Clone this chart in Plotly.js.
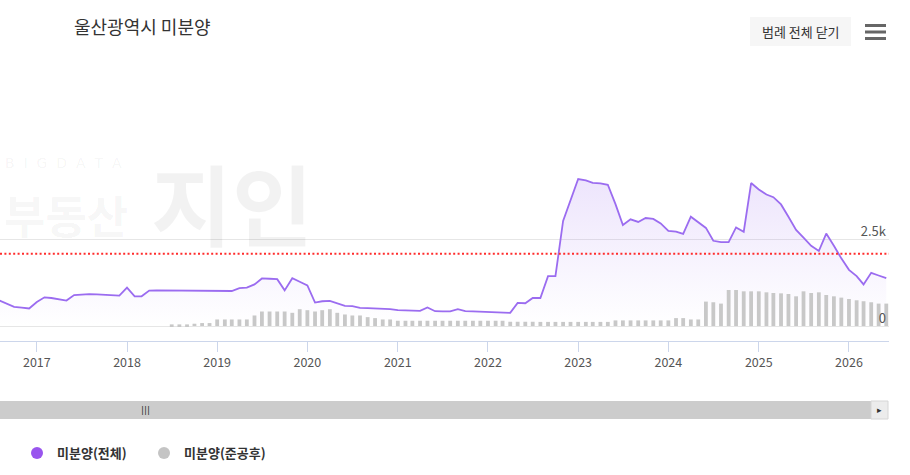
<!DOCTYPE html>
<html>
<head>
<meta charset="utf-8">
<script src="https://cdn.plot.ly/plotly-3.0.1.min.js"></script>
<style>
  html, body { margin: 0; padding: 0; background: #ffffff; }
  #chart { width: 910px; height: 475px; }
</style>
</head>
<body>
<div id="chart"></div>
<script>
// ---------- data (monthly, Aug 2016 .. Jun 2026) ----------
const firstMonth = [2016, 8];
const totalUnsold = [
  // 2016 Aug-Dec
  746, 660, 554, 531, 508,
  // 2017
  697, 832, 812, 775, 738, 898, 913, 927, 918, 904, 890, 881,
  // 2018
  1111, 861, 861, 1025, 1033, 1030, 1030, 1028, 1026, 1024, 1022, 1020,
  // 2019
  1022, 1020, 1015, 1099, 1111, 1205, 1378, 1369, 1358, 1033, 1386, 1283,
  // 2020
  1177, 680, 718, 726, 651, 583, 574, 525, 517, 508, 500, 488,
  // 2021
  459, 453, 448, 439, 537, 430, 425, 422, 488, 430, 425, 419,
  // 2022
  416, 410, 402, 382, 669, 660, 812, 812, 1444, 1444, 3042, 3616,
  // 2023
  4256, 4219, 4147, 4133, 4090, 3530, 2927, 3091, 3014, 3128, 3100, 2970,
  // 2024
  2755, 2735, 2669, 3166, 2999, 2841, 2468, 2431, 2431, 2856, 2727, 4141,
  // 2025
  3952, 3808, 3731, 3521, 3166, 2784, 2563, 2325, 2173, 2678, 2325, 1960,
  // 2026 Jan-Jun
  1627, 1444, 1205, 1541, 1464, 1386
];
const completedUnsold = [
  // 2016 Aug-Dec
  null, null, null, null, null,
  // 2017
  null, null, null, null, null, null, null, null, null, null, null, null,
  // 2018
  null, null, null, null, null, null, 48, 48, 48, 67, 86, 86,
  // 2019
  191, 191, 191, 191, 191, 306, 421, 421, 421, 421, 383, 488,
  // 2020
  459, 421, 459, 488, 383, 335, 306, 306, 258, 230, 191, 191,
  // 2021
  153, 153, 153, 153, 153, 153, 153, 153, 153, 153, 153, 153,
  // 2022
  153, 153, 153, 124, 124, 124, 124, 120, 120, 120, 120, 120,
  // 2023
  120, 120, 120, 120, 120, 163, 163, 163, 163, 163, 163, 163,
  // 2024
  163, 230, 230, 191, 191, 708, 689, 650, 1043, 1043, 1005, 1005,
  // 2025
  1005, 976, 957, 947, 928, 861, 1005, 957, 976, 899, 861, 823,
  // 2026 Jan-Jun
  784, 746, 718, 689, 650, 650
];
const thresholdValue = 2090;
const seriesNames = ['미분양(전체)', '미분양(준공후)'];
const yTickVals = [0, 2500, 5000];
const yTickText = ['0', '2.5k', ''];
const chartTitle = '울산광역시 미분양';
const buttonLabel = '범례 전체 닫기';

// month labels
const months = totalUnsold.map((_, i) => {
  const m0 = firstMonth[1] - 1 + i;
  const y = firstMonth[0] + Math.floor(m0 / 12);
  const m = (m0 % 12) + 1;
  return y + '-' + String(m).padStart(2, '0') + '-01';
});

// ---------- geometry helpers (pixel -> paper) ----------
const W = 910, H = 475;
const M = { l: 0, r: 21, t: 153, b: 134 };
const PW = W - M.l - M.r, PH = H - M.t - M.b;
const px = x => (x - M.l) / PW;
const py = y => (H - M.b - y) / PH;

const FONT = '"Noto Sans CJK KR", "Noto Sans", sans-serif';
const purple = '#9b6cf0';
const grey = '#c8c8c8';
const yRange = [-433, 5010];

const traces = [
  {
    type: 'scatter', mode: 'lines', x: months, y: totalUnsold,
    name: seriesNames[0], showlegend: false,
    line: { color: purple, width: 1.8 },
    fill: 'tozeroy',
    fillcolor: 'rgba(155,108,240,0.10)',
    fillgradient: {
      type: 'vertical', start: 0, stop: 4300,
      colorscale: [[0, 'rgba(155,108,240,0.0)'], [1, 'rgba(155,108,240,0.18)']]
    },
    hoverinfo: 'skip'
  },
  {
    type: 'bar', x: months, y: completedUnsold, yaxis: 'y2',
    name: seriesNames[1], showlegend: false,
    marker: { color: grey, line: { width: 0 } },
    hoverinfo: 'skip'
  },
  {
    type: 'scatter', mode: 'markers', x: [null], y: [null],
    name: seriesNames[0], showlegend: true,
    marker: { color: '#9955ee', size: 13, symbol: 'circle' }
  },
  {
    type: 'scatter', mode: 'markers', x: [null], y: [null],
    name: seriesNames[1], showlegend: true,
    marker: { color: '#c4c4c4', size: 13, symbol: 'circle' }
  }
];

const wm = 'rgba(0,0,0,0.05)';
const nb = '\u00a0';
const layout = {
  width: W, height: H,
  margin: M,
  paper_bgcolor: '#ffffff', plot_bgcolor: '#ffffff',
  font: { family: FONT, color: '#333333' },
  showlegend: true,
  bargap: 0.45,
  xaxis: {
    type: 'date',
    range: ['2016-08-05', '2026-06-12'],
    tick0: '2017-01-01', dtick: 'M12', tickformat: '%Y',
    showgrid: false, zeroline: false,
    showline: true, linecolor: '#ccd6eb', linewidth: 1,
    ticks: 'outside', ticklen: 10, tickcolor: '#ccd6eb',
    tickfont: { size: 12.5, color: '#555555', family: FONT },
    fixedrange: true
  },
  yaxis: {
    side: 'right', range: yRange,
    tickvals: yTickVals, ticktext: yTickText,
    showgrid: true, gridcolor: '#e6e6e6', zeroline: false,
    showline: false, ticks: '',
    ticklabelposition: 'inside', ticklabelshift: -8,
    tickfont: { size: 13, color: '#555555', family: FONT },
    fixedrange: true
  },
  yaxis2: {
    overlaying: 'y', side: 'right', range: yRange,
    visible: false, showgrid: false, zeroline: false, fixedrange: true
  },
  legend: {
    orientation: 'h', x: px(17), xanchor: 'left', y: py(453), yanchor: 'middle',
    font: { size: 13, color: '#333333', family: FONT, weight: 700 },
    entrywidth: 82, entrywidthmode: 'pixels',
    itemsizing: 'constant', bgcolor: 'rgba(0,0,0,0)', itemclick: false
  },
  shapes: [
    // threshold line
    { type: 'line', xref: 'paper', x0: 0, x1: 1, yref: 'y', y0: thresholdValue, y1: thresholdValue,
      line: { color: '#ff2d2d', width: 2, dash: '2px,2.4px' }, layer: 'above' },
    // scrollbar
    { type: 'rect', xref: 'paper', yref: 'paper', x0: px(0), x1: px(888), y0: py(419), y1: py(401),
      fillcolor: '#cccccc', line: { width: 0 } },
    { type: 'rect', xref: 'paper', yref: 'paper', x0: px(871), x1: px(888), y0: py(419), y1: py(401),
      fillcolor: '#ececec', line: { width: 1, color: '#d6d6d6' } },
    // legend toggle button
    { type: 'rect', xref: 'paper', yref: 'paper', x0: px(750), x1: px(851), y0: py(46), y1: py(17),
      fillcolor: '#f6f6f6', line: { width: 0 } },
    // hamburger icon
    { type: 'rect', xref: 'paper', yref: 'paper', x0: px(865), x1: px(886), y0: py(27), y1: py(24),
      fillcolor: '#666666', line: { width: 0 } },
    { type: 'rect', xref: 'paper', yref: 'paper', x0: px(865), x1: px(886), y0: py(33.5), y1: py(30.5),
      fillcolor: '#666666', line: { width: 0 } },
    { type: 'rect', xref: 'paper', yref: 'paper', x0: px(865), x1: px(886), y0: py(40), y1: py(37),
      fillcolor: '#666666', line: { width: 0 } }
  ],
  annotations: [
    { text: chartTitle, xref: 'paper', yref: 'paper', x: px(72), y: py(26), xanchor: 'left', yanchor: 'middle',
      showarrow: false, font: { size: 18, color: '#333333', family: FONT } },
    { text: buttonLabel, xref: 'paper', yref: 'paper', x: px(800.5), y: py(31.5), xanchor: 'center', yanchor: 'middle',
      showarrow: false, font: { size: 13, color: '#333333', family: FONT } },
    { text: '|||', xref: 'paper', yref: 'paper', x: px(145), y: py(410), xanchor: 'center', yanchor: 'middle',
      showarrow: false, font: { size: 9, color: '#333333', family: 'DejaVu Sans' } },
    { text: '▸', xref: 'paper', yref: 'paper', x: px(879.5), y: py(410), xanchor: 'center', yanchor: 'middle',
      showarrow: false, font: { size: 9, color: '#333333', family: 'DejaVu Sans' } },
    // watermark
    { text: ['B','I','G','D','A','T','A'].join(nb + nb), xref: 'paper', yref: 'paper', x: px(3), y: py(163),
      xanchor: 'left', yanchor: 'middle', showarrow: false,
      font: { size: 14, color: wm, family: 'DejaVu Sans' } },
    { text: '부동산', xref: 'paper', yref: 'paper', x: px(2), y: py(214), xanchor: 'left', yanchor: 'middle',
      showarrow: false, font: { size: 45, color: wm, family: FONT, weight: 700 } },
    { text: '지인', xref: 'paper', yref: 'paper', x: px(232), y: py(200), xanchor: 'center', yanchor: 'middle',
      showarrow: false, font: { size: 88, color: wm, family: FONT, weight: 700 } }
  ]
};

Plotly.newPlot('chart', traces, layout, { displayModeBar: false, staticPlot: false, responsive: false });
</script>
</body>
</html>
